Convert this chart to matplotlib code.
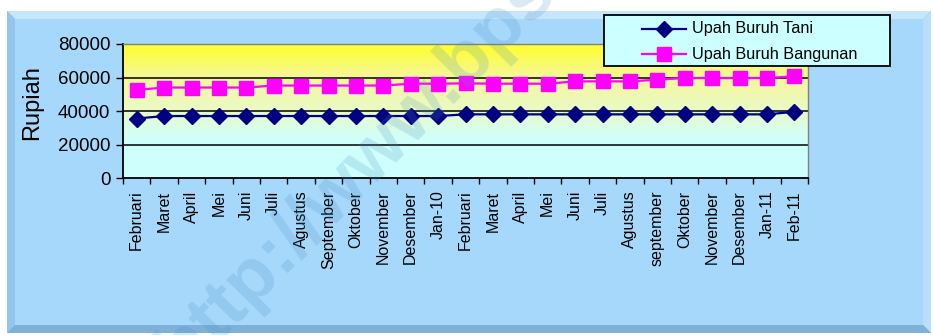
import matplotlib

matplotlib.use("Agg")
import matplotlib.pyplot as plt
import numpy as np
from matplotlib.colors import LinearSegmentedColormap
from matplotlib.patches import Polygon, Rectangle

plt.rcParams["font.family"] = ["Liberation Sans", "DejaVu Sans"]

# month labels, Feb 2009 .. Feb 2011
months = [
    "Februari", "Maret", "April", "Mei", "Juni", "Juli", "Agustus",
    "September", "Oktober", "November", "Desember", "Jan-10",
    "Februari", "Maret", "April", "Mei", "Juni", "Juli", "Agustus",
    "september", "Oktober", "November", "Desember", "Jan-11", "Feb-11",
]
upah_tani = [
    35500, 37000, 37000, 37000, 37000, 37000, 37000, 37000, 37000, 37000,
    37000, 37000, 38000, 38000, 38000, 38000, 38000, 38000, 38000, 38000,
    38000, 38000, 38000, 38000, 39500,
]
upah_bangunan = [
    52600, 54000, 54000, 54000, 54000, 55200, 55200, 55200, 55200, 55200,
    56300, 56300, 56500, 56300, 56300, 56300, 57700, 57700, 57700, 58700,
    59700, 59700, 59700, 59700, 60700,
]
series_names = ["Upah Buruh Tani", "Upah Buruh Bangunan"]
y_ticks = [0, 20000, 40000, 60000, 80000]

W, H = 934, 335
fig = plt.figure(figsize=(W / 100, H / 100), dpi=100)
fig.patch.set_facecolor("white")


def px(x0, y0, x1, y1):
    # pixel box -> figure fraction rect
    return [x0 / W, 1 - y1 / H, (x1 - x0) / W, (y1 - y0) / H]


# beveled chart panel (drawn in pixel coords)
bg = fig.add_axes([0, 0, 1, 1], zorder=-5)
bg.set_xlim(0, W)
bg.set_ylim(H, 0)
bg.axis("off")
L, T, R, B, bev = 7, 11, 931, 333, 8
bg.add_patch(Rectangle((L, T), R - L, B - T, facecolor="#8dbfe6", edgecolor="none"))
bg.add_patch(Polygon([(L, T), (R, T), (R - bev, T + bev), (L + bev, T + bev)],
                     facecolor="#c6e6fc", edgecolor="none"))
bg.add_patch(Polygon([(L, T), (L + bev, T + bev), (L + bev, B - bev), (L, B)],
                     facecolor="#93c6ec", edgecolor="none"))
bg.add_patch(Polygon([(R, T), (R, B), (R - bev, B - bev), (R - bev, T + bev)],
                     facecolor="#b9defa", edgecolor="none"))
bg.add_patch(Polygon([(L, B), (R, B), (R - bev, B - bev), (L + bev, B - bev)],
                     facecolor="#7fb0d8", edgecolor="none"))
bg.add_patch(Rectangle((L + bev, T + bev), R - L - 2 * bev, B - T - 2 * bev,
                       facecolor="#a6d8fb", edgecolor="none"))

ax = fig.add_axes(px(123, 44, 808, 178))
x = np.arange(len(months))

# plot area gradient: yellow at top fading to pale cyan
grad = LinearSegmentedColormap.from_list(
    "bg",
    [(0.0, (0.80, 1.0, 1.0)), (0.30, (0.82, 1.0, 0.98)),
     (0.50, (0.92, 0.98, 0.78)), (0.75, (0.96, 0.97, 0.60)),
     (1.0, (1.0, 1.0, 0.15))],
)
ax.imshow(np.linspace(0, 1, 256).reshape(-1, 1), cmap=grad, origin="lower",
          extent=(-0.5, len(months) - 0.5, 0, 80000), aspect="auto", zorder=0)

for yv in y_ticks[1:-1]:
    ax.axhline(yv, color="black", lw=1.1, zorder=1)

styles = [
    dict(color="#000080", marker="D", ms=8.5),
    dict(color="#ff00ff", marker="s", ms=9.5),
]
for vals, st in zip([upah_tani, upah_bangunan], styles):
    ax.plot(x, vals, lw=1.6, markeredgecolor=st["color"], zorder=3, **st)

ax.set_xlim(-0.5, len(months) - 0.5)
ax.set_ylim(0, 80000)
ax.set_yticks(y_ticks)
ax.set_yticklabels([str(v) for v in y_ticks], fontsize=13.5)
ax.set_xticks(x)
ax.set_xticklabels(months, rotation=90, fontsize=11.5)
ax.set_xticks(np.arange(-0.5, len(months)), minor=True)
ax.tick_params(axis="x", which="major", length=0, pad=9)
ax.tick_params(axis="x", which="minor", length=4, width=1, direction="out")
ax.tick_params(axis="y", length=5, width=1, direction="out", pad=4)

for side in ("left", "bottom"):
    ax.spines[side].set_color("black")
    ax.spines[side].set_linewidth(1.3)
for side in ("top", "right"):
    ax.spines[side].set_color("#808080")
    ax.spines[side].set_linewidth(1.0)

fig.text(32 / W, 1 - 103 / H, "Rupiah", rotation=90, fontsize=17,
         ha="center", va="center")

# watermark (runs off the panel as in the original)
fig.text(427 / W, 1 - 99 / H, "http://www.bps.go.id", rotation=45.5,
         rotation_mode="anchor", fontsize=54, fontweight="bold",
         color="#4a8fc0", alpha=0.2, ha="center", va="center", zorder=10)

# legend box, laid out in pixel coords to match the original placement
leg_ax = fig.add_axes([0, 0, 1, 1], zorder=6)
leg_ax.set_xlim(0, W)
leg_ax.set_ylim(H, 0)
leg_ax.axis("off")
leg_ax.add_patch(Rectangle((604, 15), 286, 51, facecolor="#ccffff",
                           edgecolor="black", lw=1.3))
for i, (name, st) in enumerate(zip(series_names, styles)):
    yy = 29 + i * 25
    leg_ax.plot([642, 686], [yy, yy], lw=1.6, color=st["color"])
    leg_ax.plot([664], [yy], ls="none", marker=st["marker"], ms=st["ms"],
                color=st["color"])
    leg_ax.text(692, yy, name, fontsize=11.7, ha="left", va="center")

fig.savefig("out.png", dpi=100)
